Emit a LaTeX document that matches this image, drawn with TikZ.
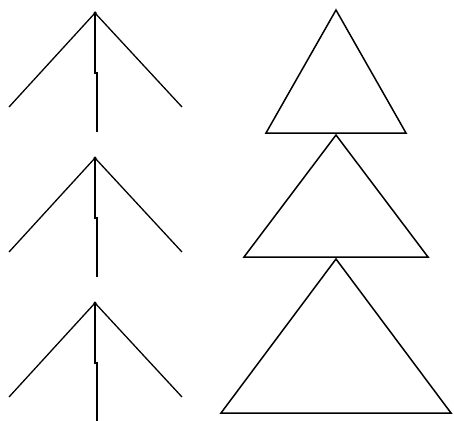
\documentclass[tikz,border=0pt]{standalone}
\usetikzlibrary{positioning}

\begin{document}
\begin{tikzpicture}[
    x=1pt, y=-1pt,
    root/.style={circle, fill=black, inner sep=0pt, minimum size=3.5pt},
    branch/.style={draw, line width=1.3pt},
    stem/.style={draw, line width=1.6pt},
    subtree/.style={draw, line width=1.5pt, line join=miter},
]
\useasboundingbox (0,0) rectangle (454,420);

% left column: a root with three branches
\foreach \i/\y in {1/13, 2/158, 3/303} {
    \node[root] (r\i) at (95,\y) {};
    \coordinate (l\i) at (9,\y+94);
    \coordinate (k\i) at (95,\y+60);
    \coordinate (m\i) at (97,\y+119);
    \coordinate (q\i) at (182,\y+94);
    \draw[branch] (r\i.center) -- (l\i);
    \draw[branch] (r\i.center) -- (q\i);
    \draw[stem] (r\i.center) -- (k\i) -- (k\i -| m\i) -- (m\i);
}

% right column: stacked triangles
\foreach \i/\y/\h/\w in {1/10/123/70, 2/135/122/92, 3/259/154/115} {
    \coordinate (t\i) at (336,\y);
    \coordinate (a\i) at (336-\w,\y+\h);
    \coordinate (b\i) at (336+\w,\y+\h);
    \draw[subtree] (t\i) -- (a\i) -- (b\i) -- cycle;
}

\end{tikzpicture}
\end{document}
